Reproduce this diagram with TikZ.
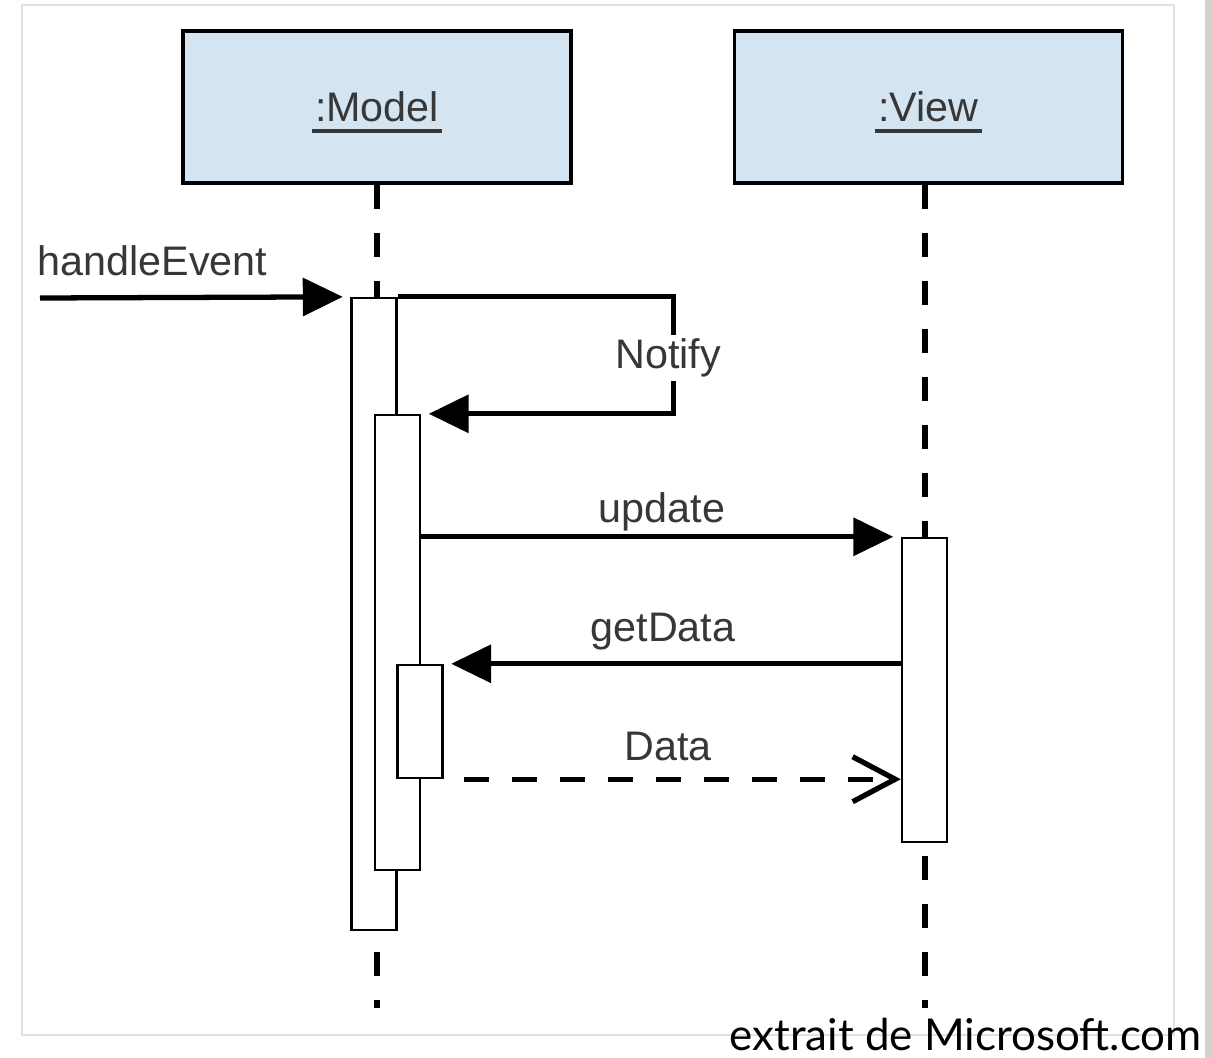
\documentclass[tikz,border=0pt]{standalone}
\usepackage{fontspec}
\setmainfont{Liberation Sans}
\newfontfamily\captionfont{Lato}
\usetikzlibrary{arrows.meta}
\usetikzlibrary{positioning}
\usetikzlibrary{backgrounds}
\usetikzlibrary{calc}

\definecolor{objfill}{RGB}{212,228,240}
\definecolor{labelgray}{RGB}{55,55,55}
\definecolor{framegray}{RGB}{224,224,224}
\definecolor{bargray}{RGB}{210,210,210}

% underlined object name
\newcommand{\objlabel}[1]{\setbox0\hbox{#1}\rlap{\hspace{-2pt}\raisebox{-6pt}{\rule{\dimexpr\wd0+4pt\relax}{1.8pt}}}\box0}

\tikzset{
  object/.style={draw, line width=1.8pt, fill=objfill, minimum width=7.76cm, minimum height=3.04cm,
                 text depth=0pt, text=labelgray, font=\fontsize{23.5}{28}\selectfont},
  act/.style={draw, line width=1.4pt, fill=white, minimum width=0.9cm, inner sep=0pt},
  lifeline/.style={line width=3pt, dash pattern=on 0.48cm off 0.48cm},
  msg/.style={line width=3pt, -{Triangle[length=0.8cm, width=0.75cm]}, shorten >=0.15cm},
  reply/.style={line width=3pt, dash pattern=on 0.5cm off 0.46cm, shorten <=0.4cm,
                -{Straight Barb[length=0.85cm, width=0.9cm, line width=3pt]}},
  msglabel/.style={text=labelgray, font=\fontsize{23.5}{28}\selectfont, inner sep=2pt}
}

\begin{document}
\begin{tikzpicture}[x=0.02cm, y=-0.02cm]
    \useasboundingbox (0,0) rectangle (1211,1058);

    % frame
    \draw[framegray, line width=1.4pt] (22,5) rectangle (1174,1035);
    \fill[bargray] (1205,0) rectangle (1211,1058);

    % objects
    \node [object] (model) at (377,107)   {\objlabel{:Model}};
    \node [object] (view)  at (928.5,107) {\objlabel{:View}};

    \coordinate (mend) at (377,1008);
    \coordinate (vend) at (925,1008);
    \coordinate (start) at (40,298);

    % lifelines
    \draw[lifeline] (model.south) -- (mend);
    \draw[lifeline] (view.south -| vend) -- (vend);

    % activations
    \node [act, minimum height=12.64cm] (m1) at (374,614)     {};
    \node [act, minimum height=9.1cm]   (m2) at (397.5,642.5) {};
    \node [act, minimum height=2.26cm]  (m3) at (420,721.5)   {};
    \node [act, minimum height=6.08cm]  (v1) at (924.5,690)   {};

    % messages
    \draw[msg] (start) -- (m1.north west);
    \draw[msg] (m1.north east) -- ++(276,0) |- (m2.north east);
    \draw[msg] (m2.east |- v1.north) -- (v1.north west);
    \draw[msg] (v1.west |- m3.north) -- (m3.north east);
    \draw[reply] (m3.south east) -- (v1.west |- m3.south);

    \node [msglabel, anchor=base west] (hlabel) at (34,275)  {handleEvent};
    \node [msglabel, fill=white]       (nlabel) at (668,358) {Notify};
    \node [msglabel]                   (ulabel) at (662,512) {update};
    \node [msglabel]                   (glabel) at (663,632) {getData};
    \node [msglabel]                   (dlabel) at (668,746) {Data};

    \node [anchor=base east, inner sep=0pt, font=\captionfont\fontsize{25}{30}\selectfont]
        (source) at (1202,1050) {extrait de Microsoft.com};
\end{tikzpicture}
\end{document}
